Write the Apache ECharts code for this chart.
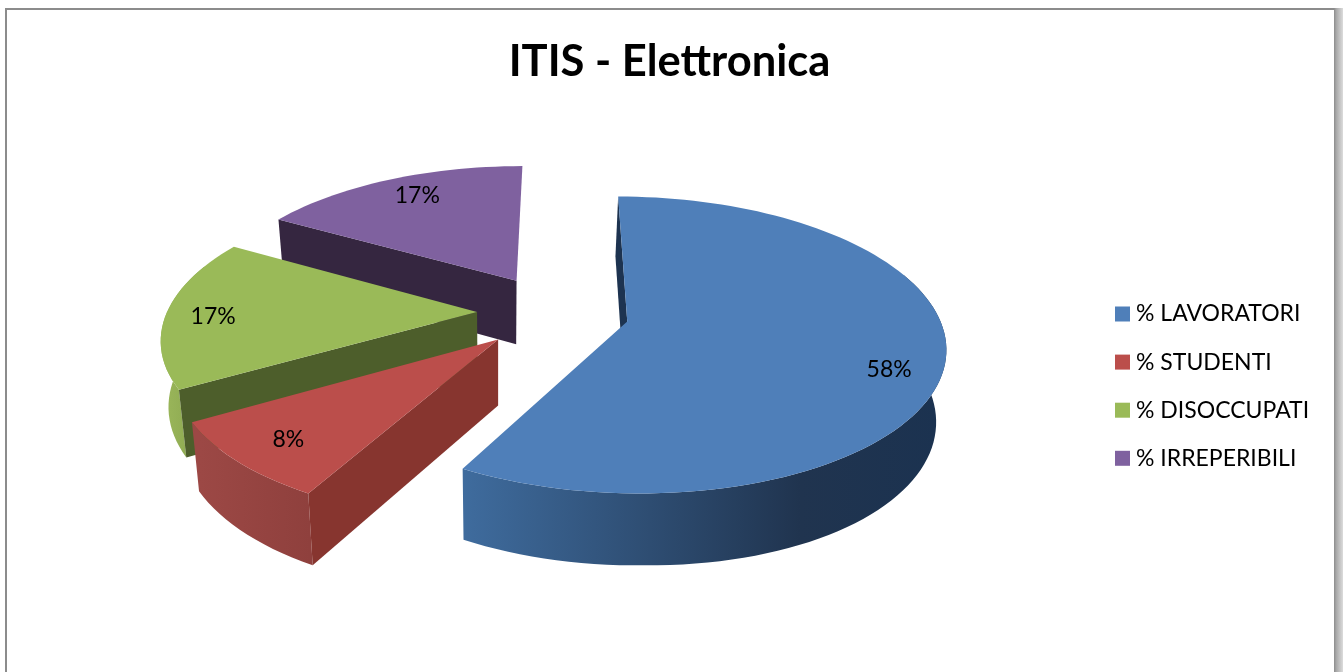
<!DOCTYPE html>
<html>
<head>
<meta charset="utf-8">
<style>html,body{margin:0;padding:0;background:#fff}#c{width:1343px;height:672px}</style>
<script src="https://cdn.jsdelivr.net/npm/echarts@6/dist/echarts.min.js"></script>
</head>
<body>
<div id="c"></div>
<script>
var chartTitle = 'ITIS - Elettronica';
var categories = ['% LAVORATORI', '% STUDENTI', '% DISOCCUPATI', '% IRREPERIBILI'];
var values = [58, 8.6, 16.7, 16.7];
var labels = ['58%', '8%', '17%', '17%'];

var topColors = ['#4f7fb9', '#bb4e4b', '#9aba58', '#7f619f'];
var faceColors = ['#1d3350', '#87352f', '#4d5e2b', '#352640'];
var rimStops = [
  [[461, '#3f6c9e'], [650, '#2e4d72'], [800, '#20344f'], [940, '#1b3250']],
  [[200, '#9c4845'], [310, '#8f403d']],
  [[165, '#9ab65a'], [200, '#8aa64f']],
  [[280, '#352640'], [520, '#352640']]
];
var labelAnchors = [[111.7, 0.844], [223.9, 0.828], [268.3, 0.847], [331.9, 0.816]];

// projection of the exploded disc on the picture plane
var V = {x: 561, horizon: -589, sx: 310, sy: 901, p: 0.1573, shift: -0.0258, explodeX: 0.245, explodeY: 0.264};
var DROP = {base: 65, slope: 0.04, at: 320, nadir: 500, lean: 0.023, sideFrom: 650, side: 0.02};
var RIM_MIN_FACING = -0.35;

var total = values.reduce(function (a, b) { return a + b; }, 0);

function project(X, Y) {
  var w = 1 - V.p * Y;
  return [V.x + V.sx * (X + V.shift) / w, V.horizon + V.sy / w];
}
function lower(pt) {
  return [
    pt[0] - DROP.lean * (pt[0] - DROP.nadir),
    pt[1] + DROP.base + DROP.slope * (pt[1] - DROP.at) + DROP.side * Math.max(0, pt[0] - DROP.sideFrom)
  ];
}
function rad(d) { return d * Math.PI / 180; }

function sliceItem(index) {
  return function (params, api) {
    var before = 0;
    for (var i = 0; i < index; i++) before += values[i];
    var value = api.value(0);
    var a0 = before / total * 360, a1 = (before + value) / total * 360, mid = (a0 + a1) / 2;
    var ox = Math.sin(rad(mid)) * V.explodeX, oy = -Math.cos(rad(mid)) * V.explodeY;
    var apex = project(ox, oy);
    var arc = [], rim = [];
    var steps = Math.max(12, Math.round((a1 - a0) / 2));
    for (var s = 0; s <= steps; s++) {
      var a = rad(a0 + (a1 - a0) * s / steps);
      var pt = project(ox + Math.sin(a), oy - Math.cos(a));
      arc.push(pt);
      if (-Math.cos(a) > RIM_MIN_FACING) rim.push(pt);
    }
    var first = arc[0];
    var stops = rimStops[index];
    var x0 = stops[0][0], x1 = stops[stops.length - 1][0];
    var grad = new echarts.graphic.LinearGradient(x0, 0, x1, 0, stops.map(function (t) {
      return {offset: (t[0] - x0) / (x1 - x0), color: t[1]};
    }), true);
    var la = labelAnchors[index];
    var lp = project(ox + Math.sin(rad(la[0])) * la[1], oy - Math.cos(rad(la[0])) * la[1]);
    var children = [];
    if (rim.length > 1) {
      children.push({type: 'polygon', shape: {points: rim.concat(rim.map(lower).reverse())}, style: {fill: grad}, silent: true});
    }
    children.push(
      {type: 'polygon', shape: {points: [apex, first, lower(first), lower(apex)]}, style: {fill: faceColors[index]}, silent: true},
      {type: 'polygon', shape: {points: [apex].concat(arc)}, style: {fill: topColors[index]}, silent: true},
      {type: 'text', silent: true, style: {
        text: labels[index], x: lp[0], y: lp[1] + 1, fill: '#000',
        font: '23px Lato', align: 'center', verticalAlign: 'middle'
      }}
    );
    return {type: 'group', children: children};
  };
}

var drawOrder = [3, 2, 0, 1];
var series = drawOrder.map(function (i, k) {
  return {
    type: 'custom',
    name: categories[i],
    coordinateSystem: 'none',
    z: 2 + k,
    itemStyle: {color: topColors[i]},
    renderItem: sliceItem(i),
    data: [[values[i]]],
    animation: false
  };
});

var chart = echarts.init(document.getElementById('c'), null, {renderer: 'canvas'});
chart.setOption({
  animation: false,
  backgroundColor: '#fff',
  title: {
    text: chartTitle, left: 664.5, top: 35, textAlign: 'center',
    textStyle: {fontFamily: 'Lato', fontWeight: 'bold', fontSize: 43.5, color: '#000'}
  },
  legend: {
    data: categories, orient: 'vertical', left: 1110, top: 297.5,
    icon: 'rect', itemWidth: 15, itemHeight: 15, itemGap: 25.1, selectedMode: false,
    textStyle: {fontFamily: 'Lato', fontSize: 23, color: '#000', padding: [0, 0, 0, 1]}
  },
  graphic: [
    {type: 'polyline', z: 1, silent: true, shape: {points: [[6, 672], [6, 9], [1335, 9]]}, style: {stroke: '#8c8c8c', lineWidth: 2, fill: null}},
    {type: 'rect', z: 1, silent: true, shape: {x: 1334, y: 8, width: 9, height: 664}, style: {
      fill: new echarts.graphic.LinearGradient(0, 0, 1, 0, [{offset: 0, color: '#8c8c8c'}, {offset: 0.25, color: '#a8a8a8'}, {offset: 1, color: '#dcdcdc'}])
    }}
  ],
  series: series
});
</script>
</body>
</html>
